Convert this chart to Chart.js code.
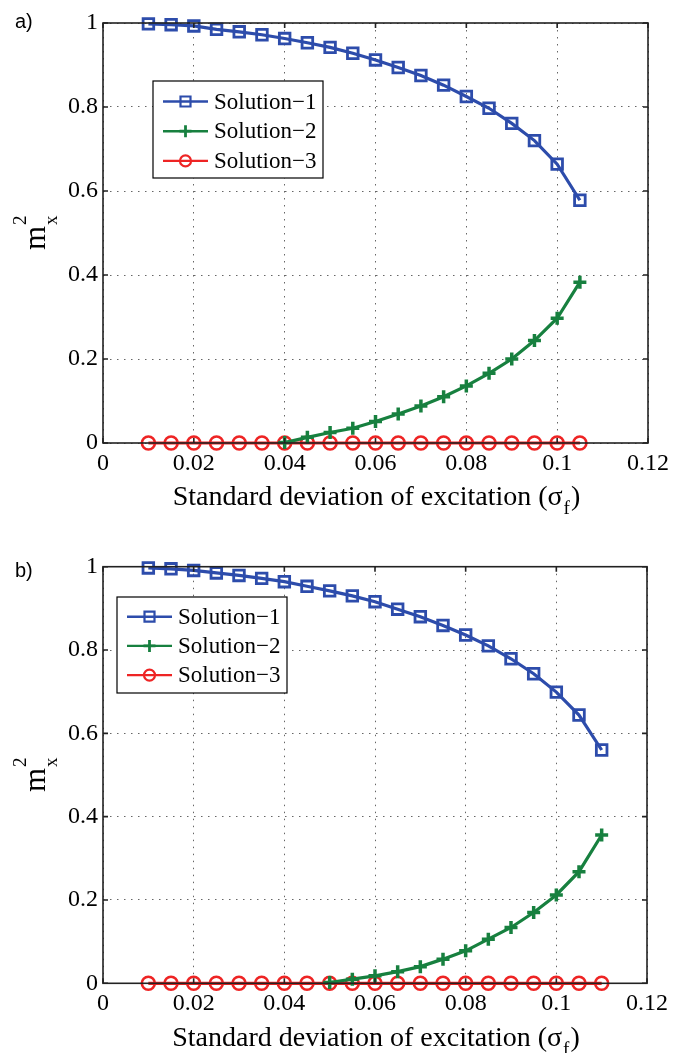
<!DOCTYPE html>
<html>
<head>
<meta charset="utf-8">
<script src="https://cdn.jsdelivr.net/npm/chart.js@4.4.0/dist/chart.umd.min.js"></script>
<style>
  body { margin: 0; background: #fff; }
  .panel { position: absolute; left: 0; width: 686px; }
</style>
</head>
<body>
<div class="panel" style="top:0;height:520px"><canvas id="chartA" width="686" height="520"></canvas></div>
<div class="panel" style="top:520px;height:533px"><canvas id="chartB" width="686" height="533"></canvas></div>
<script>
// axis ticks shared by both panels
const xTicks = [0, 0.02, 0.04, 0.06, 0.08, 0.1, 0.12];
const xTickLabels = ['0', '0.02', '0.04', '0.06', '0.08', '0.1', '0.12'];
const yTicks = [0, 0.2, 0.4, 0.6, 0.8, 1];
const yTickLabels = ['0', '0.2', '0.4', '0.6', '0.8', '1'];
const seriesNames = ['Solution\u22121', 'Solution\u22122', 'Solution\u22123'];

// panel a)
const sigmaA = [0.01, 0.015, 0.02, 0.025, 0.03, 0.035, 0.04, 0.045, 0.05, 0.055,
                0.06, 0.065, 0.07, 0.075, 0.08, 0.085, 0.09, 0.095, 0.1, 0.105];
const sol1A = [0.998, 0.996, 0.993, 0.985, 0.979, 0.972, 0.963, 0.953, 0.942, 0.928,
               0.912, 0.894, 0.875, 0.852, 0.825, 0.797, 0.761, 0.720, 0.664, 0.578];
const sigma2A = [0.04, 0.045, 0.05, 0.055, 0.06, 0.065, 0.07, 0.075, 0.08, 0.085,
                 0.09, 0.095, 0.1, 0.105];
const sol2A = [0.001, 0.0135, 0.025, 0.035, 0.051, 0.069, 0.088, 0.110, 0.136, 0.166,
               0.200, 0.244, 0.297, 0.383];
const sol3A = [0, 0, 0, 0, 0, 0, 0, 0, 0, 0, 0, 0, 0, 0, 0, 0, 0, 0, 0, 0];

// panel b)
const sigmaB = [0.01, 0.015, 0.02, 0.025, 0.03, 0.035, 0.04, 0.045, 0.05, 0.055,
                0.06, 0.065, 0.07, 0.075, 0.08, 0.085, 0.09, 0.095, 0.1, 0.105, 0.11];
const sol1B = [0.997, 0.995, 0.991, 0.985, 0.979, 0.972, 0.964, 0.953, 0.942, 0.930,
               0.916, 0.898, 0.880, 0.859, 0.836, 0.810, 0.779, 0.743, 0.699, 0.644, 0.560];
const sigma2B = [0.05, 0.055, 0.06, 0.065, 0.07, 0.075, 0.08, 0.085, 0.09, 0.095,
                 0.1, 0.105, 0.11];
const sol2B = [0.002, 0.010, 0.018, 0.028, 0.040, 0.058, 0.078, 0.106, 0.134, 0.170,
               0.212, 0.268, 0.356];
const sol3B = [0, 0, 0, 0, 0, 0, 0, 0, 0, 0, 0, 0, 0, 0, 0, 0, 0, 0, 0, 0, 0];

const BLUE = '#2d4cab';
const GREEN = '#17803f';
const RED = '#ee2424';
const SERIF = "'Liberation Serif', serif";

Chart.defaults.font.family = SERIF;
Chart.defaults.font.size = 24;
Chart.defaults.color = '#000';

const pts = (xs, ys) => xs.map((x, i) => ({ x: x, y: ys[i] }));

function makeSets(s1x, s1, s2x, s2, s3x, s3) {
    return [{
        label: seriesNames[0], data: pts(s1x, s1),
        borderColor: BLUE, pointBorderColor: BLUE, pointStyle: 'rect',
        pointRadius: 7.5, pointBorderWidth: 2.8
    }, {
        label: seriesNames[1], data: pts(s2x, s2),
        borderColor: GREEN, pointBorderColor: GREEN, pointStyle: 'cross',
        pointRadius: 6.5, pointBorderWidth: 3.5
    }, {
        label: seriesNames[2], data: pts(s3x, s3),
        borderColor: RED, pointBorderColor: RED, pointStyle: 'circle',
        pointRadius: 6.5, pointBorderWidth: 2.6
    }].map(d => Object.assign(d, {
        borderWidth: 3.2, tension: 0, fill: false, clip: false,
        pointBackgroundColor: 'rgba(0,0,0,0)', pointHoverRadius: 6
    }));
}

function legendMarker(ctx, style, x, y, color) {
    ctx.strokeStyle = color;
    ctx.beginPath();
    if (style === 'rect') {
        ctx.lineWidth = 2.2;
        ctx.rect(x - 5, y - 5, 10, 10);
    } else if (style === 'cross') {
        ctx.lineWidth = 2.8;
        ctx.moveTo(x - 6, y); ctx.lineTo(x + 6, y);
        ctx.moveTo(x, y - 6); ctx.lineTo(x, y + 6);
    } else {
        ctx.lineWidth = 2.2;
        ctx.arc(x, y, 5.5, 0, Math.PI * 2);
    }
    ctx.stroke();
}

// axis box, inward ticks, titles, panel label and legend
const decor = {
    id: 'decor',
    afterDraw(chart, args, o) {
        const ctx = chart.ctx, a = chart.chartArea;
        const xs = chart.scales.x, ys = chart.scales.y;
        ctx.save();

        ctx.strokeStyle = '#222';
        ctx.lineWidth = 1.6;
        ctx.strokeRect(a.left, a.top, a.right - a.left, a.bottom - a.top);
        ctx.beginPath();
        xTicks.forEach(v => {
            const px = xs.getPixelForValue(v);
            ctx.moveTo(px, a.bottom); ctx.lineTo(px, a.bottom - 5);
            ctx.moveTo(px, a.top); ctx.lineTo(px, a.top + 5);
        });
        yTicks.forEach(v => {
            const py = ys.getPixelForValue(v);
            ctx.moveTo(a.left, py); ctx.lineTo(a.left + 5, py);
            ctx.moveTo(a.right, py); ctx.lineTo(a.right - 5, py);
        });
        ctx.stroke();

        // panel label
        ctx.fillStyle = '#000';
        ctx.textAlign = 'left';
        ctx.textBaseline = 'alphabetic';
        ctx.font = "20px 'Liberation Sans', sans-serif";
        ctx.fillText(o.label, 15, o.labelY);

        // y title: m^2_x rotated
        ctx.save();
        ctx.translate(45, (a.top + a.bottom) / 2);
        ctx.rotate(-Math.PI / 2);
        ctx.font = '31px ' + SERIF;
        const mw = ctx.measureText('m').width;
        const x0 = -(mw + 10) / 2;
        ctx.fillText('m', x0, 0);
        ctx.font = '19px ' + SERIF;
        ctx.fillText('2', x0 + mw + 1, -19);
        ctx.fillText('x', x0 + mw + 1, 12);
        ctx.restore();

        // x title with subscript f
        const main = 'Standard deviation of excitation (\u03c3';
        ctx.font = '28px ' + SERIF;
        const w1 = ctx.measureText(main).width;
        const w3 = ctx.measureText(')').width;
        ctx.font = '19px ' + SERIF;
        const w2 = ctx.measureText('f').width;
        let tx = (a.left + a.right) / 2 - (w1 + w2 + w3) / 2;
        ctx.font = '28px ' + SERIF;
        ctx.fillText(main, tx, o.titleY);
        ctx.font = '19px ' + SERIF;
        ctx.fillText('f', tx + w1 + 1, o.titleY + 9);
        ctx.font = '28px ' + SERIF;
        ctx.fillText(')', tx + w1 + w2 + 2, o.titleY);

        // legend
        const L = o.legend;
        ctx.fillStyle = '#fff';
        ctx.fillRect(L.x, L.y, L.w, L.h);
        ctx.strokeStyle = '#000';
        ctx.lineWidth = 1.2;
        ctx.strokeRect(L.x, L.y, L.w, L.h);
        ctx.font = '23px ' + SERIF;
        ctx.textBaseline = 'middle';
        chart.data.datasets.forEach((d, i) => {
            const ry = L.y + L.row0 + i * L.step;
            ctx.strokeStyle = d.borderColor;
            ctx.lineWidth = 2.4;
            ctx.beginPath();
            ctx.moveTo(L.x + 10, ry); ctx.lineTo(L.x + 55, ry);
            ctx.stroke();
            legendMarker(ctx, d.pointStyle, L.x + 32.5, ry, d.borderColor);
            ctx.fillStyle = '#000';
            ctx.fillText(d.label, L.x + 61, ry + 1);
        });
        ctx.restore();
    }
};

function makeChart(el, datasets, pad, xHeight, deco) {
    return new Chart(el, {
        type: 'line',
        data: { datasets: datasets },
        options: {
            responsive: false,
            animation: false,
            events: [],
            layout: { padding: pad },
            scales: {
                x: {
                    type: 'linear', min: 0, max: 0.12,
                    afterBuildTicks: s => { s.ticks = xTicks.map(v => ({ value: v })); },
                    afterFit: s => { s.height = xHeight; },
                    ticks: {
                        color: '#000', padding: 6, maxRotation: 0, autoSkip: false,
                        font: { family: SERIF, size: 24 },
                        callback: (v, i) => xTickLabels[i]
                    },
                    grid: { color: 'rgba(0,0,0,0.6)', lineWidth: 1, drawTicks: false },
                    border: { display: false, dash: [1.5, 5.5] }
                },
                y: {
                    type: 'linear', min: 0, max: 1,
                    afterBuildTicks: s => { s.ticks = yTicks.map(v => ({ value: v })); },
                    afterFit: s => { s.width = 103; },
                    ticks: {
                        color: '#000', padding: 5,
                        font: { family: SERIF, size: 24 },
                        callback: (v, i) => yTickLabels[i]
                    },
                    grid: { color: 'rgba(0,0,0,0.6)', lineWidth: 1, drawTicks: false },
                    border: { display: false, dash: [1.5, 5.5] }
                }
            },
            plugins: {
                legend: { display: false },
                tooltip: { enabled: false },
                decor: deco
            }
        },
        plugins: [decor]
    });
}

makeChart(document.getElementById('chartA'),
    makeSets(sigmaA, sol1A, sigma2A, sol2A, sigmaA, sol3A),
    { left: 0, right: 38, top: 23, bottom: 0 }, 77,
    { label: 'a)', labelY: 28, titleY: 505,
      legend: { x: 153, y: 81, w: 170, h: 97, row0: 20.5, step: 29.7 } });

makeChart(document.getElementById('chartB'),
    makeSets(sigmaB, sol1B, sigma2B, sol2B, sigmaB, sol3B),
    { left: 0, right: 39, top: 46.7, bottom: 0 }, 69.7,
    { label: 'b)', labelY: 57, titleY: 526,
      legend: { x: 117, y: 77, w: 170, h: 96, row0: 19.7, step: 29.2 } });
</script>
</body>
</html>
